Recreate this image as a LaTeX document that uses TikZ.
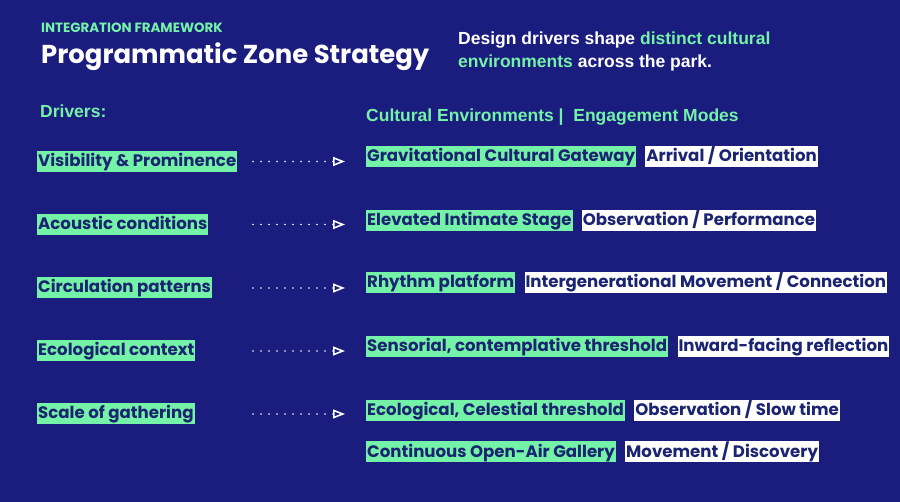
\documentclass[tikz,border=0pt]{standalone}
\usepackage{fontspec}
\setmainfont{Liberation Sans}
\newfontfamily\zonefont{Poppins}
\usetikzlibrary{positioning,arrows.meta}
\definecolor{zonebg}{HTML}{1A1D7E}
\definecolor{mint}{HTML}{74F2A8}
\definecolor{ink}{HTML}{1B2470}
\tikzset{
  driver/.style={fill=mint,text=ink,font=\zonefont\bfseries\fontsize{16.6}{16}\selectfont,
    inner xsep=1pt,inner ysep=0pt,text height=15.5pt,text depth=5.5pt,anchor=west},
  mode/.style={driver,fill=white},
  plain/.style={inner sep=0pt,anchor=base west},
  link/.style={white,line width=1.7pt,dash pattern=on 0pt off 8pt,line cap=round,
    -{Triangle[open,length=12pt,width=9pt,line width=1.6pt]}},
}
\begin{document}
\begin{tikzpicture}[x=1pt,y=-1pt]
   \useasboundingbox (0,0) rectangle (900,502);
   \fill[zonebg] (0,0) rectangle (900,502);

   \node[plain,text=mint,font=\zonefont\bfseries\fontsize{13.4}{14}\selectfont] (kicker) at (41,33) {INTEGRATION FRAMEWORK};
   \node[plain,text=white,font=\zonefont\bfseries\fontsize{25.9}{26}\selectfont] (title) at (41,64) {Programmatic Zone Strategy};
   \node[plain,text=white,font=\bfseries\fontsize{17.5}{18}\selectfont] (lede1) at (458,45) {Design drivers shape \textcolor{mint}{distinct cultural}};
   \node[plain,text=white,font=\bfseries\fontsize{17.5}{18}\selectfont] (lede2) at (458,68) {\textcolor{mint}{environments} across the park.};

   \node[plain,text=mint,font=\bfseries\fontsize{17.5}{18}\selectfont] (drvhead) at (40,118) {Drivers:};
   \node[plain,text=mint,font=\bfseries\fontsize{17.5}{18}\selectfont] (envhead) at (366,122) {Cultural Environments |\ \ Engagement Modes};

   \node[driver] (d1) at (37,161.5) {Visibility \& Prominence};
   \node[driver] (d2) at (37,224.5) {Acoustic conditions};
   \node[driver] (d3) at (37,288) {Circulation patterns};
   \node[driver] (d4) at (37,351) {Ecological context};
   \node[driver] (d5) at (37,414) {Scale of gathering};

   \node[driver] (e1) at (366,157) {Gravitational Cultural Gateway};
   \node[driver] (e2) at (366,220.5) {Elevated Intimate Stage};
   \node[driver] (e3) at (366,283) {Rhythm platform};
   \node[driver] (e4) at (366,347) {Sensorial, contemplative threshold};
   \node[driver] (e5) at (366,411) {Ecological, Celestial threshold};
   \node[driver] (e6) at (366,452) {Continuous Open-Air Gallery};

   \node[mode,right=9pt of e1] (m1) {Arrival / Orientation};
   \node[mode,right=9pt of e2] (m2) {Observation / Performance};
   \node[mode,right=9pt of e3] (m3) {Intergenerational Movement / Connection};
   \node[mode,right=9pt of e4] (m4) {Inward-facing reflection};
   \node[mode,right=9pt of e5] (m5) {Observation / Slow time};
   \node[mode,right=9pt of e6] (m6) {Movement / Discovery};

   \coordinate (aL) at (253,0);
   \coordinate (aR) at (345,0);
   \foreach \d in {d1,d2,d3,d4,d5}
      \draw[link] (\d -| aL) -- (\d -| aR);

\end{tikzpicture}
\end{document}
